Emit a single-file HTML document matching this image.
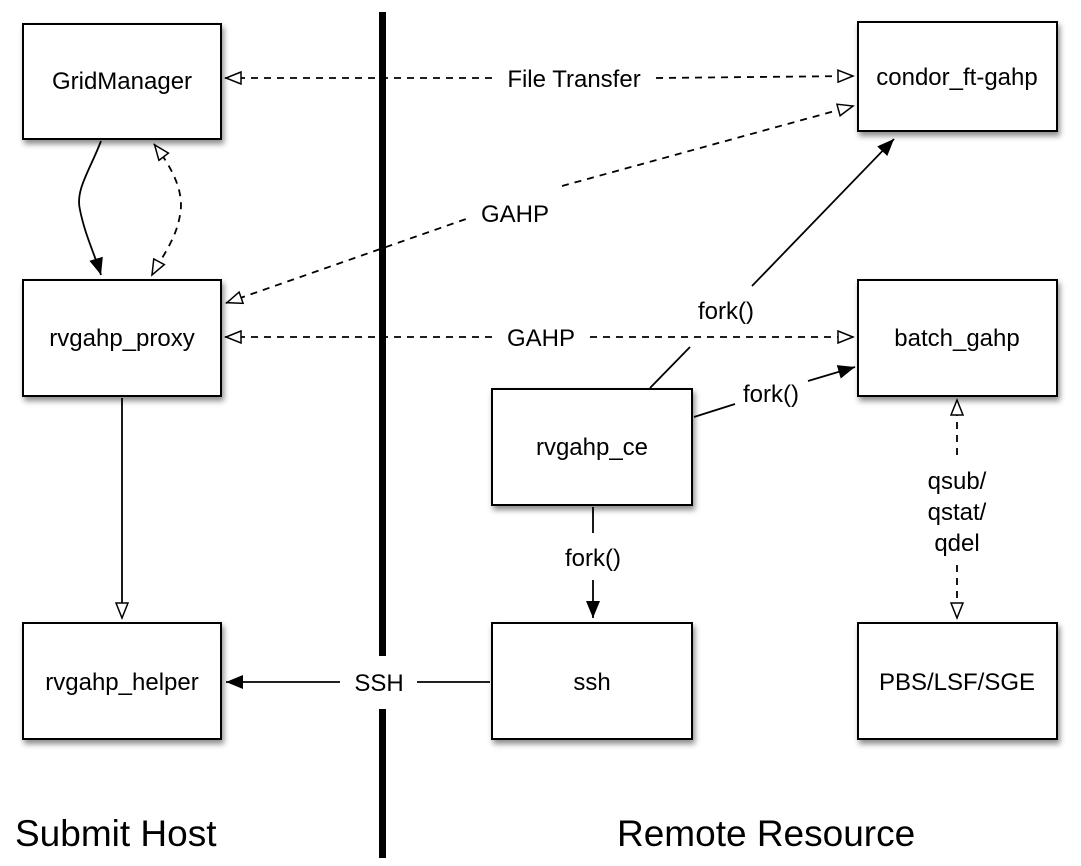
<!DOCTYPE html>
<html><head><style>
html,body{margin:0;padding:0;background:#fff;width:1081px;height:866px;overflow:hidden}
text{font-family:"Liberation Sans",sans-serif;fill:#000}
</style></head><body>
<svg width="1081" height="866" viewBox="0 0 1081 866" xmlns="http://www.w3.org/2000/svg">
<defs>
<filter id="sh" x="-20%" y="-20%" width="150%" height="150%"><feDropShadow dx="2" dy="4" stdDeviation="3" flood-color="#000" flood-opacity="0.45"/></filter>
<marker id="af" markerWidth="18" markerHeight="14" refX="17" refY="7" orient="auto" markerUnits="userSpaceOnUse"><path d="M0,0 L17,7 L0,14 z" fill="#000"/></marker>
<marker id="ao" markerWidth="18" markerHeight="14" refX="16" refY="7" orient="auto" markerUnits="userSpaceOnUse"><path d="M1,1 L16,7 L1,13 z" fill="#fff" stroke="#000" stroke-width="1.5"/></marker>
<marker id="aos" markerWidth="18" markerHeight="14" refX="1" refY="7" orient="auto" markerUnits="userSpaceOnUse"><path d="M17,1 L2,7 L17,13 z" fill="#fff" stroke="#000" stroke-width="1.5"/></marker>
</defs>
<rect x="379" y="12" width="7" height="846" fill="#000"/>
<rect x="345" y="656" width="70" height="53" fill="#fff"/>
<g fill="#fff" stroke="#000" stroke-width="2" filter="url(#sh)">
<rect x="23" y="24" width="198" height="115"/>
<rect x="23" y="280" width="198" height="116"/>
<rect x="23" y="623" width="198" height="116"/>
<rect x="858" y="22" width="199" height="109"/>
<rect x="858" y="280" width="199" height="116"/>
<rect x="492" y="389" width="200" height="116"/>
<rect x="492" y="623" width="200" height="116"/>
<rect x="858" y="623" width="199" height="116"/>
</g>
<g font-size="24" text-anchor="middle">
<text x="122" y="89">GridManager</text>
<text x="122" y="346">rvgahp_proxy</text>
<text x="122" y="690">rvgahp_helper</text>
<text x="957" y="85">condor_ft-gahp</text>
<text x="957" y="346">batch_gahp</text>
<text x="592" y="455">rvgahp_ce</text>
<text x="592" y="690">ssh</text>
<text x="957" y="690">PBS/LSF/SGE</text>
</g>
<g fill="none" stroke="#000" stroke-width="1.8">
<path d="M225,78 L493,78" stroke-dasharray="7,6" marker-start="url(#aos)"/>
<path d="M656,78 L853,76" stroke-dasharray="7,6" marker-end="url(#ao)"/>
<path d="M226,303 L466,219" stroke-dasharray="7,6" marker-start="url(#aos)"/>
<path d="M562,186 L853,106" stroke-dasharray="7,6" marker-end="url(#ao)"/>
<path d="M225,337 L493,337" stroke-dasharray="7,6" marker-start="url(#aos)"/>
<path d="M590,337 L853,337" stroke-dasharray="7,6" marker-end="url(#ao)"/>
<path d="M101,141 C90,170 75,190 80,210 C85,235 95,255 101,275" marker-end="url(#af)"/>
<path d="M154,144 C170,165 185,190 180,215 C176,240 160,260 152,275" stroke-dasharray="7,6" marker-start="url(#aos)" marker-end="url(#ao)"/>
<path d="M122,398 L122,618" marker-end="url(#ao)"/>
<path d="M650,388 L690,347"/>
<path d="M752,286 L894,139" marker-end="url(#af)"/>
<path d="M694,417 L735,404"/>
<path d="M808,381 L855,367" marker-end="url(#af)"/>
<path d="M593,507 L593,533"/>
<path d="M593,580 L593,618" marker-end="url(#af)"/>
<path d="M957,455 L957,400" stroke-dasharray="7,6" marker-end="url(#ao)"/>
<path d="M957,565 L957,618" stroke-dasharray="7,6" marker-end="url(#ao)"/>
<path d="M490,682 L417,682"/>
<path d="M340,682 L226,682" marker-end="url(#af)"/>
</g>
<g font-size="24" text-anchor="middle">
<text x="574" y="87">File Transfer</text>
<text x="515" y="222">GAHP</text>
<text x="541" y="346">GAHP</text>
<text x="726" y="319">fork()</text>
<text x="771" y="402">fork()</text>
<text x="593" y="566">fork()</text>
<text x="379" y="691">SSH</text>
<text x="957" y="489">qsub/</text>
<text x="957" y="520">qstat/</text>
<text x="957" y="551">qdel</text>
</g>
<g font-size="37">
<text x="15" y="846">Submit Host</text>
<text x="617" y="846">Remote Resource</text>
</g>
</svg>
</body></html>
